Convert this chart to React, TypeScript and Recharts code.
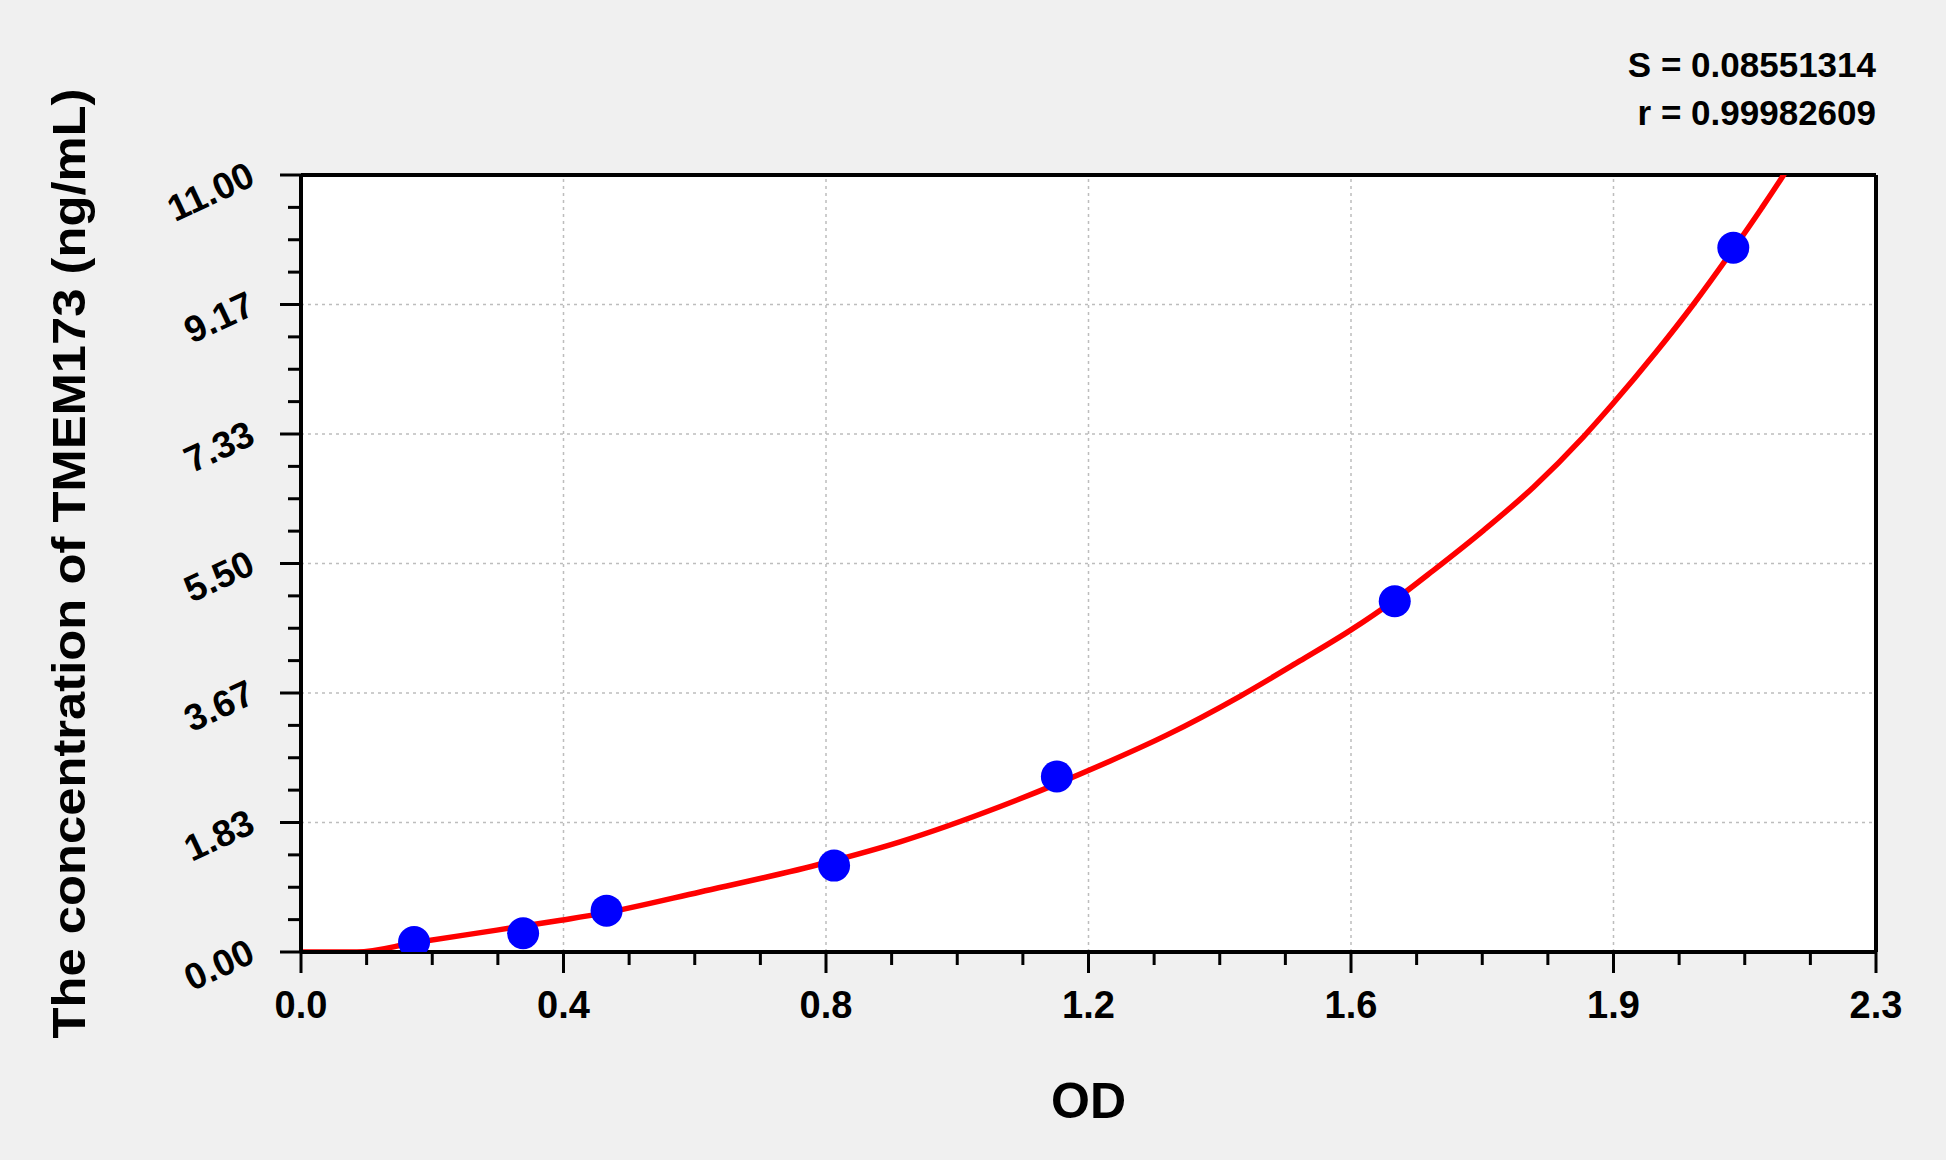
import { ComposedChart, Line, Scatter, XAxis, YAxis, ReferenceLine, CartesianGrid } from "recharts"

// standard points (OD vs concentration)
const odValues = [0.168, 0.33, 0.454, 0.792, 1.123, 1.625, 2.128]
const concValues = [0.14, 0.265, 0.585, 1.223, 2.485, 4.966, 9.97]

// fitted curve
const fitOd = [0, 0.083, 0.168, 0.291, 0.386, 0.444, 0.593, 0.778, 0.89, 1.039, 1.123, 1.187, 1.286, 1.395, 1.484, 1.56, 1.623, 1.682, 1.757, 1.831, 1.905, 1.948, 2.013, 2.068, 2.128, 2.17, 2.202, 2.21]
const fitConc = [0, 0, 0.13, 0.31, 0.45, 0.54, 0.85, 1.26, 1.56, 2.06, 2.38, 2.64, 3.07, 3.62, 4.12, 4.56, 4.97, 5.4, 5.97, 6.58, 7.29, 7.75, 8.49, 9.16, 9.95, 10.53, 10.99, 11.11]

const xMajorTicks = [0, 0.39, 0.78, 1.17, 1.56, 1.95, 2.34]
const xTickLabels = ["0.0", "0.4", "0.8", "1.2", "1.6", "1.9", "2.3"]
const yMajorTicks = [0, 1.8333, 3.6667, 5.5, 7.3333, 9.1667, 11]
const yTickLabels = ["0.00", "1.83", "3.67", "5.50", "7.33", "9.17", "11.00"]

const statLines = ["S = 0.08551314", "r = 0.99982609"]
const xTitle = "OD"
const yTitle = "The concentration of TMEM173 (ng/mL)"

const FONT = "Arial, 'Liberation Sans', Helvetica, sans-serif"

const subdivide = (majors: number[], parts: number) => {
    const out: number[] = []
    for (let i = 0; i < majors.length - 1; i++) {
        for (let k = 0; k < parts; k++) {
            out.push(majors[i] + ((majors[i + 1] - majors[i]) * k) / parts)
        }
    }
    out.push(majors[majors.length - 1])
    return out
}

const xAllTicks = subdivide(xMajorTicks, 4)
const yAllTicks = subdivide(yMajorTicks, 4)

const majorIndex = (majors: number[], v: number) =>
    majors.findIndex(m => Math.abs(m - v) < 1e-6)

const points = odValues.map((od, i) => ({ od, conc: concValues[i] }))
const fitData = fitOd.map((od, i) => ({ od, conc: fitConc[i] }))

const XTick = ({ x, y, payload }: any) => {
    const idx = majorIndex(xMajorTicks, payload.value)
    const major = idx >= 0
    return (
        <g>
            <line x1={x} x2={x} y1={y} y2={y + (major ? 21 : 13)} stroke="#000" strokeWidth={3} />
            {major && (
                <text x={x} y={y + 66} textAnchor="middle" fontSize={38} fontWeight="bold" fontFamily={FONT} fill="#000">
                    {xTickLabels[idx]}
                </text>
            )}
        </g>
    )
}

const YTick = ({ x, y, payload }: any) => {
    const idx = majorIndex(yMajorTicks, payload.value)
    const major = idx >= 0
    const tx = x - 44
    const ty = y + 9
    return (
        <g>
            <line x1={x - (major ? 21 : 13)} x2={x} y1={y} y2={y} stroke="#000" strokeWidth={3} />
            {major && (
                <text
                    x={tx}
                    y={ty}
                    transform={`rotate(-25, ${tx}, ${ty})`}
                    textAnchor="end"
                    fontSize={37}
                    fontWeight="bold"
                    fontFamily={FONT}
                    fill="#000"
                >
                    {yTickLabels[idx]}
                </text>
            )}
        </g>
    )
}

const YTitle = ({ viewBox }: any) => {
    const cx = viewBox.x + 85
    const cy = viewBox.y + viewBox.height / 2
    return (
        <text
            x={cx}
            y={cy}
            transform={`rotate(-90, ${cx}, ${cy})`}
            textAnchor="middle"
            fontSize={46}
            fontWeight="bold"
            fontFamily={FONT}
            fill="#000"
            textLength={950}
            lengthAdjust="spacingAndGlyphs"
        >
            {yTitle}
        </text>
    )
}

const XTitle = ({ viewBox }: any) => {
    const cx = viewBox.x + viewBox.width / 2
    return (
        <text x={cx} y={viewBox.y + 166} textAnchor="middle" fontSize={50} fontWeight="bold" fontFamily={FONT} fill="#000">
            {xTitle}
        </text>
    )
}

const Dot = (props: any) => <circle cx={props.cx} cy={props.cy} r={16} fill="#0000ff" />

export default function App() {
    return (
        <div style={{ position: "absolute", left: 0, top: 0, width: 1946, height: 1160, background: "#f0f0f0" }}>
            <ComposedChart width={1946} height={1160} margin={{ top: 175, right: 70, bottom: 0, left: 0 }}>
                <CartesianGrid fill="#ffffff" horizontal={false} vertical={false} />
                <XAxis
                    type="number"
                    dataKey="od"
                    domain={[0, 2.34]}
                    allowDataOverflow
                    ticks={xAllTicks}
                    interval={0}
                    height={208}
                    tickSize={0}
                    tickMargin={0}
                    tickLine={false}
                    axisLine={{ stroke: "#000", strokeWidth: 4 }}
                    tick={<XTick />}
                    label={<XTitle />}
                />
                <YAxis
                    type="number"
                    dataKey="conc"
                    domain={[0, 11]}
                    allowDataOverflow
                    ticks={yAllTicks}
                    interval={0}
                    width={301}
                    tickSize={0}
                    tickMargin={0}
                    tickLine={false}
                    axisLine={{ stroke: "#000", strokeWidth: 4 }}
                    tick={<YTick />}
                    label={<YTitle />}
                />
                {xMajorTicks.slice(1, -1).map(v => (
                    <ReferenceLine key={`gx-${v}`} x={v} stroke="#bdbdbd" strokeWidth={1.5} strokeDasharray="3 4" />
                ))}
                {yMajorTicks.slice(1, -1).map(v => (
                    <ReferenceLine key={`gy-${v}`} y={v} stroke="#bdbdbd" strokeWidth={1.5} strokeDasharray="3 4" />
                ))}
                <ReferenceLine y={11} stroke="#000" strokeWidth={4} />
                <ReferenceLine x={2.34} stroke="#000" strokeWidth={4} />
                <Scatter data={points} dataKey="conc" shape={<Dot />} isAnimationActive={false} />
                <Line
                    data={fitData}
                    dataKey="conc"
                    type="monotone"
                    stroke="#ff0000"
                    strokeWidth={5.5}
                    dot={false}
                    activeDot={false}
                    isAnimationActive={false}
                />
            </ComposedChart>
            <svg width={1946} height={140} style={{ position: "absolute", left: 0, top: 0 }}>
                {statLines.map((s, i) => (
                    <text key={s} x={1876} y={77 + i * 48} textAnchor="end" fontSize={35} fontWeight="bold" fontFamily={FONT} fill="#000">
                        {s}
                    </text>
                ))}
            </svg>
        </div>
    )
}
